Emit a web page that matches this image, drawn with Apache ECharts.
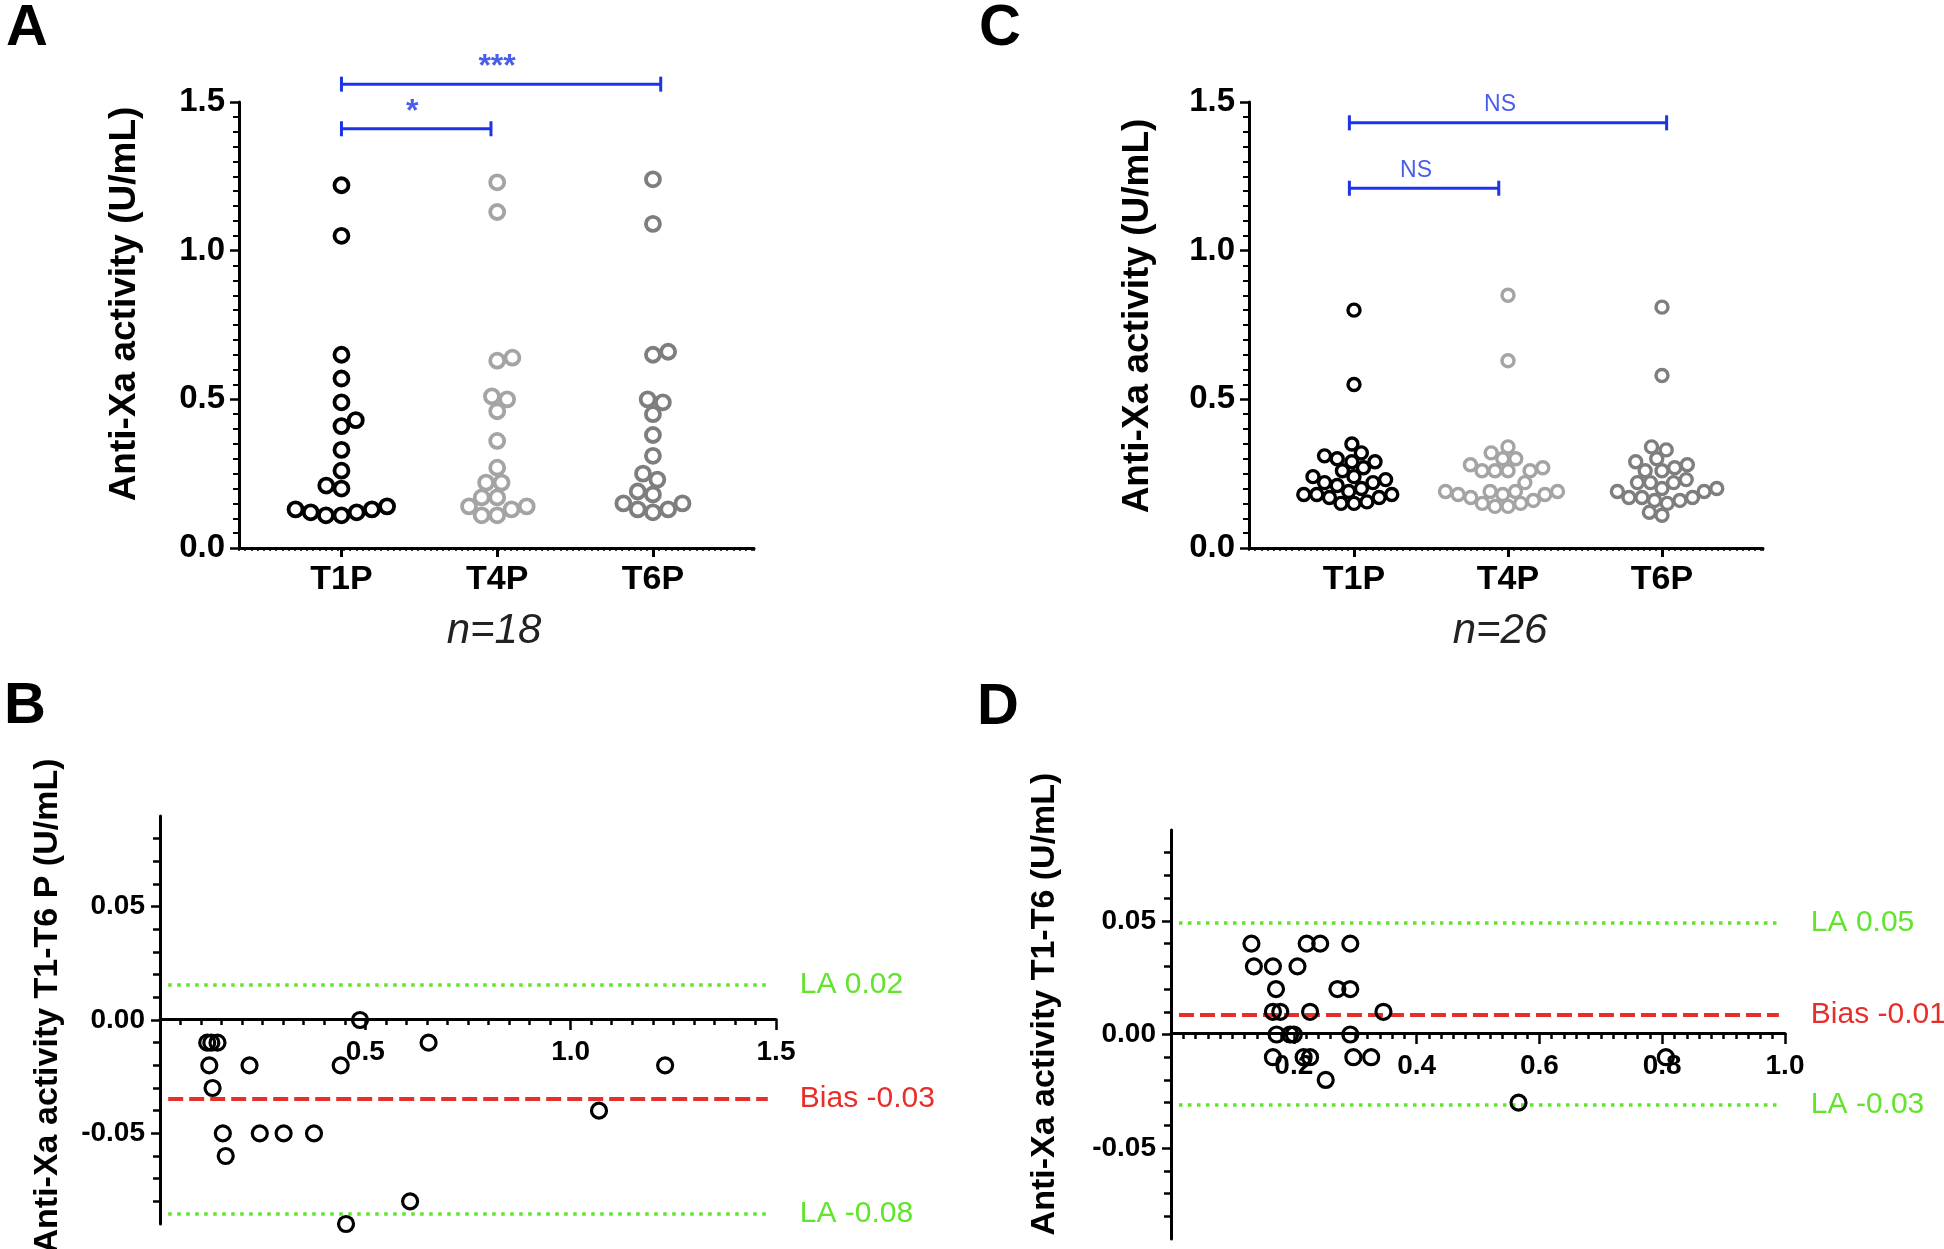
<!DOCTYPE html>
<html>
<head>
<meta charset="utf-8">
<script src="https://cdn.jsdelivr.net/npm/echarts@6.0.0/dist/echarts.min.js"></script>
<style>html,body{margin:0;padding:0;background:#fff}#c{width:1944px;height:1249px}</style>
</head>
<body>
<div id="c"></div>
<script>
// ---------------- data ----------------
const CATEGORIES = ['T1P', 'T4P', 'T6P'];

// Panel A (n=18)
const A_T1P = [1.22, 1.05, 0.65, 0.57, 0.49, 0.43, 0.41, 0.33, 0.26, 0.21, 0.20, 0.14, 0.13, 0.13, 0.12, 0.12, 0.11, 0.11];
const A_T4P = [1.23, 1.13, 0.64, 0.63, 0.51, 0.50, 0.46, 0.36, 0.27, 0.22, 0.22, 0.17, 0.17, 0.14, 0.14, 0.13, 0.11, 0.11];
const A_T6P = [1.24, 1.09, 0.66, 0.65, 0.50, 0.49, 0.45, 0.38, 0.31, 0.25, 0.23, 0.19, 0.18, 0.15, 0.15, 0.13, 0.13, 0.12];
const A_BRACKET_FROM = [0, 0];
const A_BRACKET_TO = [0.96, 2.05];
const A_BRACKET_Y = [1.41, 1.56];
const A_BRACKET_TEXT = ['*', '***'];

// Panel C (n=26)
const C_T1P = [0.80, 0.55, 0.35, 0.32, 0.31, 0.30, 0.29, 0.29, 0.27, 0.26, 0.24, 0.24, 0.23, 0.22, 0.22, 0.21, 0.20, 0.19, 0.18, 0.18, 0.18, 0.17, 0.17, 0.155, 0.15, 0.15];
const C_T4P = [0.85, 0.63, 0.34, 0.32, 0.30, 0.30, 0.28, 0.27, 0.26, 0.26, 0.26, 0.26, 0.22, 0.19, 0.19, 0.19, 0.19, 0.18, 0.18, 0.18, 0.17, 0.16, 0.15, 0.15, 0.14, 0.14];
const C_T6P = [0.81, 0.58, 0.34, 0.33, 0.30, 0.29, 0.28, 0.27, 0.26, 0.26, 0.23, 0.22, 0.22, 0.22, 0.20, 0.20, 0.19, 0.19, 0.17, 0.17, 0.17, 0.16, 0.16, 0.15, 0.12, 0.11];
const C_BRACKET_FROM = [-0.03, -0.03];
const C_BRACKET_TO = [0.94, 2.03];
const C_BRACKET_Y = [1.21, 1.43];
const C_BRACKET_TEXT = ['NS', 'NS'];

const AC_Y_TICK_STEP = 0.5;

// Panel B (Bland-Altman, n=18)
const B_MEAN = [0.115, 0.125, 0.14, 0.12, 0.218, 0.128, 0.153, 0.243, 0.301, 0.375, 0.16, 0.44, 0.487, 0.453, 0.609, 0.654, 1.23, 1.069];
const B_DIFF = [-0.01, -0.01, -0.01, -0.02, -0.02, -0.03, -0.05, -0.05, -0.05, -0.05, -0.06, -0.02, 0.00, -0.09, -0.08, -0.01, -0.02, -0.04];
const B_REF_Y = [0.0155, -0.0348, -0.0855];
const B_REF_TEXT = ['LA 0.02', 'Bias -0.03', 'LA -0.08'];
const B_REF_KIND = ['la', 'bias', 'la'];
const B_REF_X = [0.02, 1.48];

// Panel D (Bland-Altman, n=26)
const D_MEAN = [0.131, 0.221, 0.243, 0.292, 0.135, 0.166, 0.206, 0.171, 0.271, 0.292, 0.166, 0.178, 0.2265, 0.346, 0.172, 0.194, 0.200, 0.292, 0.166, 0.216, 0.2265, 0.297, 0.326, 0.252, 0.566, 0.806];
const D_DIFF = [0.04, 0.04, 0.04, 0.04, 0.03, 0.03, 0.03, 0.02, 0.02, 0.02, 0.01, 0.01, 0.01, 0.01, 0.00, 0.00, 0.00, 0.00, -0.01, -0.01, -0.01, -0.01, -0.01, -0.02, -0.03, -0.01];
const D_REF_Y = [0.049, 0.0089, -0.031];
const D_REF_TEXT = ['LA 0.05', 'Bias -0.01', 'LA -0.03'];
const D_REF_KIND = ['la', 'bias', 'la'];
const D_REF_X = [0.013, 0.99];

const BD_Y_LABELS = [-0.05, 0, 0.05];
const BD_Y_MINOR = [-0.08, -0.07, -0.06, -0.04, -0.03, -0.02, -0.01, 0.01, 0.02, 0.03, 0.04, 0.06, 0.07, 0.08];

// ---------------- style ----------------
const FONT = "'Liberation Sans', Arial, Helvetica, sans-serif";
const BLUE = '#1c34e8';
const GREEN = '#62e42c';
const RED = '#e62f2a';
const GROUP_COLORS = ['#000000', '#a4a4a4', '#7e7e7e'];

// layout (px)
const GA = {left: 239, top: 102, width: 515, height: 446};
const GA_CAT = {left: 263.6, top: 102, width: 467.2, height: 446};
const GC = {left: 1249, top: 102, width: 514, height: 446};
const GC_CAT = {left: 1277, top: 102, width: 462, height: 446};
const GB = {left: 160, top: 816, width: 616, height: 408};
const GD = {left: 1171, top: 830, width: 614, height: 409};
const GB_AX = {left: 160, top: 816, width: 616, height: 203};
const GD_AX = {left: 1171, top: 830, width: 614, height: 203};

// beeswarm layout computed from values (pixel space), returns offsets in px
function swarm(vals, pxPerY, diam) {
  const idx = vals.map((v, i) => i).sort((a, b) => vals[a] - vals[b]);
  const placed = [];
  const out = new Array(vals.length);
  let flip = 1;
  idx.forEach(i => {
    const y = vals[i] * pxPerY;
    const blocks = [];
    placed.forEach(p => {
      const dy = Math.abs(p.y - y);
      if (dy < diam) {
        const h = Math.sqrt(diam * diam - dy * dy);
        blocks.push([p.x - h, p.x + h]);
      }
    });
    const cands = [0];
    blocks.forEach(b => cands.push(b[0], b[1]));
    cands.sort((a, b) => (Math.abs(a) - Math.abs(b)) || (flip * (a - b)));
    let x = 0;
    for (const c of cands) {
      if (blocks.every(b => c <= b[0] + 1e-6 || c >= b[1] - 1e-6)) { x = c; break; }
    }
    if (x !== 0) flip = -flip;
    placed.push({x, y});
    out[i] = x;
  });
  return out;
}

function groupPoints(vals, catIdx, pxPerY, catPx, diam) {
  const off = swarm(vals, pxPerY, diam);
  return vals.map((v, i) => [catIdx + off[i] / catPx, v]);
}

const chart = echarts.init(document.getElementById('c'), null, {renderer: 'canvas'});

const axisLineStyle = {color: '#000', width: 3};
const tickStyle = {color: '#000', width: 2.5};

function mainAxesAC(gridIdx) {
  return {
    x: {
      gridIndex: gridIdx, type: 'value', min: 0, max: 1, interval: 0.012,
      axisLine: {show: true, onZero: false, lineStyle: axisLineStyle},
      axisTick: {show: true, length: 3, lineStyle: {color: '#000', width: 1.5}},
      axisLabel: {show: false}, splitLine: {show: false}
    },
    y: {
      gridIndex: gridIdx, type: 'value', min: 0, max: 1.5, interval: AC_Y_TICK_STEP,
      axisLine: {show: true, onZero: false, lineStyle: axisLineStyle},
      axisTick: {show: true, length: 9, lineStyle: tickStyle},
      minorTick: {show: true, splitNumber: 10, length: 6, lineStyle: {color: '#000', width: 2}},
      axisLabel: {formatter: v => v.toFixed(1), fontFamily: FONT, fontWeight: 'bold', fontSize: 33, color: '#000', margin: 14},
      splitLine: {show: false}, minorSplitLine: {show: false}
    }
  };
}
function catAxesAC(gridIdx) {
  return {
    cat: {
      gridIndex: gridIdx, type: 'category', data: CATEGORIES, position: 'bottom',
      axisLine: {show: false},
      axisTick: {show: true, alignWithLabel: true, length: 9, lineStyle: {color: '#000', width: 3}},
      axisLabel: {fontFamily: FONT, fontWeight: 'bold', fontSize: 34, color: '#000', margin: 15},
      splitLine: {show: false}
    },
    val: {gridIndex: gridIdx, type: 'value', min: -0.5, max: 2.5, show: false, position: 'top'},
    y: {gridIndex: gridIdx, type: 'value', min: 0, max: 1.5, show: false}
  };
}
function baXVisible(gridIdx, max, interval) {
  return {
    gridIndex: gridIdx, type: 'value', min: 0, max: max, interval: interval, position: 'bottom',
    axisLine: {show: true, onZero: false, lineStyle: axisLineStyle},
    axisTick: {show: true, length: 11, lineStyle: tickStyle},
    minorTick: {show: true, splitNumber: 10, length: 6, lineStyle: tickStyle},
    axisLabel: {formatter: v => v === 0 ? '' : v.toFixed(1), fontFamily: FONT, fontWeight: 'bold', fontSize: 28, color: '#000', margin: 19},
    splitLine: {show: false}, minorSplitLine: {show: false}
  };
}
function baXHidden(gridIdx, max) {
  return {gridIndex: gridIdx, type: 'value', min: 0, max: max, show: false};
}
function baY(gridIdx) {
  return [{
    gridIndex: gridIdx, type: 'value', min: -0.09, max: 0.09, position: 'left',
    axisLine: {show: true, onZero: false, lineStyle: axisLineStyle},
    axisTick: {show: true, customValues: BD_Y_LABELS, length: 9, lineStyle: tickStyle},
    axisLabel: {customValues: BD_Y_LABELS, formatter: v => v.toFixed(2), fontFamily: FONT, fontWeight: 'bold', fontSize: 28, color: '#000', margin: 15},
    splitLine: {show: false}
  }, {
    gridIndex: gridIdx, type: 'value', min: -0.09, max: 0.09, position: 'left',
    axisLine: {show: false, onZero: false},
    axisTick: {show: true, customValues: BD_Y_MINOR, length: 7, lineStyle: tickStyle},
    axisLabel: {show: false},
    splitLine: {show: false}
  }];
}

const aMain = mainAxesAC(0), aCat = catAxesAC(1), cMain = mainAxesAC(2), cCat = catAxesAC(3);

// x indices: 0 A main, 1 A cat, 2 A points, 3 C main, 4 C cat, 5 C points,
//            6 B points (hidden), 7 D points (hidden), 8 B axis, 9 D axis
const xAxes = [aMain.x, aCat.cat, aCat.val, cMain.x, cCat.cat, cCat.val,
  baXHidden(4, 1.5), baXHidden(5, 1.0), baXVisible(6, 1.5, 0.5), baXVisible(7, 1.0, 0.2)];
// y indices: 0 A main, 1 A points, 2 C main, 3 C points, 4/5 B, 6/7 D, 8 B axis grid, 9 D axis grid
const yAxes = [aMain.y, aCat.y, cMain.y, cCat.y].concat(baY(4), baY(5), [
  {gridIndex: 6, type: 'value', min: 0, max: 0.09, show: false},
  {gridIndex: 7, type: 'value', min: 0, max: 0.09, show: false}
]);

const series = [];

function addSwarmPanel(groups, xIdx, yIdx, grid, catGrid, ymax, diam, symSize, border) {
  const pxPerY = grid.height / ymax;
  const catPx = catGrid.width / CATEGORIES.length;
  groups.forEach((vals, g) => {
    series.push({
      type: 'scatter', xAxisIndex: xIdx, yAxisIndex: yIdx, clip: false, silent: true,
      symbol: 'circle', symbolSize: symSize,
      itemStyle: {color: 'rgba(0,0,0,0)', borderColor: GROUP_COLORS[g], borderWidth: border, opacity: 1},
      data: groupPoints(vals, g, pxPerY, catPx, diam), z: 3
    });
  });
}
function addBrackets(from, to, ys, texts, xIdx, yIdx, textStyle) {
  ys.forEach((y, k) => {
    series.push({
      type: 'line', xAxisIndex: xIdx, yAxisIndex: yIdx, clip: false, silent: true,
      data: [[from[k], y], [to[k], y]],
      symbol: 'rect', symbolSize: [3, 15], showSymbol: true,
      itemStyle: {color: BLUE}, lineStyle: {color: BLUE, width: 3}, z: 4
    });
    series.push({
      type: 'scatter', xAxisIndex: xIdx, yAxisIndex: yIdx, clip: false, silent: true,
      data: [[(from[k] + to[k]) / 2, y]], symbolSize: 1, itemStyle: {color: 'rgba(0,0,0,0)'},
      label: Object.assign({show: true, position: 'top', formatter: texts[k], color: BLUE, fontFamily: FONT}, textStyle)
    });
  });
}
function addBA(means, diffs, refY, refText, refKind, refX, xIdx, yIdx) {
  const md = refY.map((y, k) => {
    const isBias = refKind[k] === 'bias';
    const col = isBias ? RED : GREEN;
    return [{
      coord: [refX[0], y],
      lineStyle: isBias ? {color: col, width: 4, type: [15, 6]} : {color: col, width: 3.5, type: [3.5, 5.5]},
      label: {show: true, position: 'end', distance: 32, formatter: refText[k], color: col, fontFamily: FONT, fontSize: 30}
    }, {coord: [refX[1], y]}];
  });
  series.push({
    type: 'scatter', xAxisIndex: xIdx, yAxisIndex: yIdx, clip: false, silent: true,
    symbol: 'circle', symbolSize: 15,
    itemStyle: {color: 'rgba(0,0,0,0)', borderColor: '#000', borderWidth: 3.2, opacity: 1},
    data: means.map((m, i) => [m, diffs[i]]), z: 4,
    markLine: {silent: true, symbol: ['none', 'none'], animation: false, data: md, z: 2}
  });
}

addSwarmPanel([A_T1P, A_T4P, A_T6P], 2, 1, GA, GA_CAT, 1.5, 15.5, 14, 3.8);
addSwarmPanel([C_T1P, C_T4P, C_T6P], 5, 3, GC, GC_CAT, 1.5, 13, 12, 3.4);
addBrackets(A_BRACKET_FROM, A_BRACKET_TO, A_BRACKET_Y, A_BRACKET_TEXT, 2, 1, {fontSize: 32, fontWeight: 'bold', distance: 0, offset: [-4, 0]});
addBrackets(C_BRACKET_FROM, C_BRACKET_TO, C_BRACKET_Y, C_BRACKET_TEXT, 5, 3, {fontSize: 23, fontWeight: 'normal', distance: 6, offset: [-8, 0]});
addBA(B_MEAN, B_DIFF, B_REF_Y, B_REF_TEXT, B_REF_KIND, B_REF_X, 6, 4);
addBA(D_MEAN, D_DIFF, D_REF_Y, D_REF_TEXT, D_REF_KIND, D_REF_X, 7, 6);

function txt(text, x, y, font, rot, color) {
  return {
    type: 'text', x: x, y: y, rotation: rot || 0, silent: true,
    style: {text: text, x: 0, y: 0, font: font, fill: color || '#000', align: 'center', verticalAlign: 'middle', textAlign: 'center', textVerticalAlign: 'middle'}
  };
}
const R = Math.PI / 2;
const graphic = [
  txt('A', 27, 29, 'bold 58px ' + FONT),
  txt('C', 1000, 29, 'bold 58px ' + FONT),
  txt('B', 25, 707, 'bold 58px ' + FONT),
  txt('D', 998, 708, 'bold 58px ' + FONT),
  txt('Anti-Xa activity (U/mL)', 125, 304, 'bold 37px ' + FONT, R),
  txt('Anti-Xa activity (U/mL)', 1138, 316, 'bold 37px ' + FONT, R),
  txt('Anti-Xa activity T1-T6 P (U/mL)', 48, 1006, 'bold 34px ' + FONT, R),
  txt('Anti-Xa activity T1-T6 (U/mL)', 1045, 1004, 'bold 34px ' + FONT, R),
  txt('n=18', 494, 631, 'italic 42px ' + FONT, 0, '#222'),
  txt('n=26', 1500, 631, 'italic 42px ' + FONT, 0, '#222')
];

chart.setOption({
  animation: false,
  backgroundColor: '#ffffff',
  grid: [GA, GA_CAT, GC, GC_CAT, GB, GD, GB_AX, GD_AX].map(g => Object.assign({containLabel: false}, g)),
  xAxis: xAxes,
  yAxis: yAxes,
  series: series,
  graphic: graphic
});
</script>
</body>
</html>
